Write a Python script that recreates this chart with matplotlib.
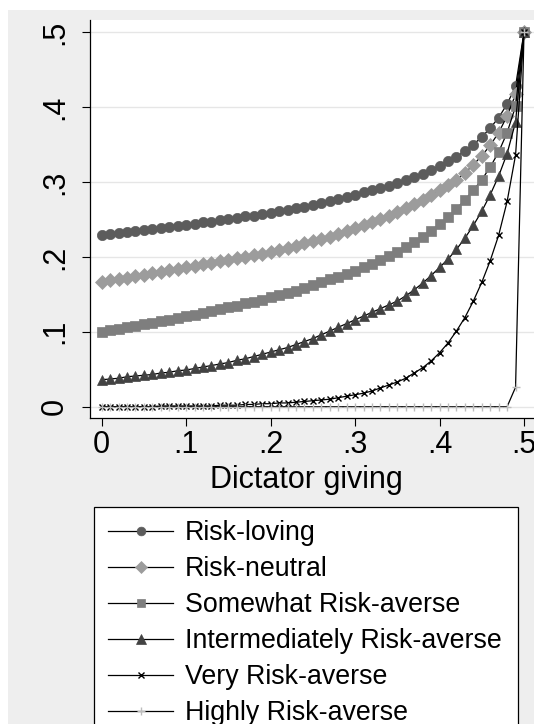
import matplotlib
matplotlib.use("Agg")
import matplotlib.pyplot as plt
from matplotlib.patches import Rectangle

plt.rcParams['font.family'] = ['Liberation Sans', 'DejaVu Sans']

giving = [0.00, 0.01, 0.02, 0.03, 0.04, 0.05, 0.06, 0.07, 0.08, 0.09,
          0.10, 0.11, 0.12, 0.13, 0.14, 0.15, 0.16, 0.17, 0.18, 0.19,
          0.20, 0.21, 0.22, 0.23, 0.24, 0.25, 0.26, 0.27, 0.28, 0.29,
          0.30, 0.31, 0.32, 0.33, 0.34, 0.35, 0.36, 0.37, 0.38, 0.39,
          0.40, 0.41, 0.42, 0.43, 0.44, 0.45, 0.46, 0.47, 0.48, 0.49, 0.50]

risk_loving = [0.229, 0.230, 0.232, 0.233, 0.234, 0.236, 0.237, 0.239, 0.240, 0.241,
               0.243, 0.244, 0.246, 0.247, 0.249, 0.250, 0.252, 0.254, 0.255, 0.257,
               0.259, 0.261, 0.263, 0.265, 0.267, 0.269, 0.272, 0.274, 0.277, 0.280,
               0.283, 0.286, 0.289, 0.292, 0.295, 0.299, 0.303, 0.307, 0.311, 0.316,
               0.322, 0.328, 0.334, 0.341, 0.350, 0.360, 0.372, 0.386, 0.404, 0.428, 0.500]

risk_neutral = [0.167, 0.169, 0.171, 0.172, 0.174, 0.176, 0.178, 0.180, 0.182, 0.184,
                0.186, 0.188, 0.190, 0.192, 0.194, 0.196, 0.198, 0.200, 0.202, 0.204,
                0.206, 0.209, 0.212, 0.215, 0.218, 0.221, 0.224, 0.227, 0.231, 0.235,
                0.239, 0.243, 0.247, 0.251, 0.255, 0.260, 0.265, 0.270, 0.276, 0.282,
                0.289, 0.296, 0.303, 0.312, 0.323, 0.335, 0.349, 0.366, 0.388, 0.417, 0.500]

somewhat_averse = [0.100, 0.102, 0.104, 0.106, 0.108, 0.110, 0.112, 0.114, 0.116, 0.118,
                   0.121, 0.123, 0.125, 0.128, 0.130, 0.133, 0.135, 0.138, 0.140, 0.143,
                   0.146, 0.149, 0.152, 0.155, 0.158, 0.162, 0.166, 0.170, 0.173, 0.177,
                   0.181, 0.186, 0.191, 0.196, 0.201, 0.207, 0.213, 0.220, 0.227, 0.235,
                   0.244, 0.253, 0.264, 0.276, 0.289, 0.303, 0.320, 0.340, 0.366, 0.401, 0.500]

intermediate_averse = [0.036, 0.037, 0.038, 0.040, 0.041, 0.042, 0.043, 0.045, 0.046, 0.048,
                       0.049, 0.051, 0.053, 0.055, 0.057, 0.059, 0.062, 0.064, 0.067, 0.070,
                       0.073, 0.076, 0.079, 0.083, 0.087, 0.091, 0.096, 0.101, 0.106, 0.111,
                       0.116, 0.121, 0.126, 0.131, 0.136, 0.141, 0.148, 0.156, 0.165, 0.175,
                       0.186, 0.197, 0.210, 0.225, 0.242, 0.261, 0.283, 0.308, 0.338, 0.380, 0.500]

very_averse = [0.000, 0.000, 0.000, 0.000, 0.000, 0.000, 0.000, 0.001, 0.001, 0.001,
               0.001, 0.001, 0.001, 0.001, 0.002, 0.002, 0.002, 0.003, 0.003, 0.004,
               0.004, 0.005, 0.005, 0.006, 0.007, 0.008, 0.009, 0.010, 0.012, 0.014,
               0.016, 0.018, 0.021, 0.025, 0.029, 0.033, 0.038, 0.045, 0.052, 0.061,
               0.072, 0.085, 0.101, 0.119, 0.141, 0.166, 0.195, 0.229, 0.274, 0.336, 0.500]

highly_averse = [0.000, 0.000, 0.000, 0.000, 0.000, 0.000, 0.000, 0.000, 0.000, 0.000,
                 0.000, 0.000, 0.000, 0.000, 0.000, 0.000, 0.000, 0.000, 0.000, 0.000,
                 0.000, 0.000, 0.000, 0.000, 0.000, 0.000, 0.000, 0.000, 0.000, 0.000,
                 0.000, 0.000, 0.000, 0.000, 0.000, 0.000, 0.000, 0.000, 0.000, 0.000,
                 0.000, 0.000, 0.000, 0.000, 0.000, 0.000, 0.000, 0.000, 0.000, 0.026, 0.500]

labels = ["Risk-loving", "Risk-neutral", "Somewhat Risk-averse",
          "Intermediately Risk-averse", "Very Risk-averse", "Highly Risk-averse"]
x_ticks = [0, 0.1, 0.2, 0.3, 0.4, 0.5]
x_ticklabels = ["0", ".1", ".2", ".3", ".4", ".5"]
y_ticks = [0, 0.1, 0.2, 0.3, 0.4, 0.5]
y_ticklabels = ["0", ".1", ".2", ".3", ".4", ".5"]

series = [risk_loving, risk_neutral, somewhat_averse, intermediate_averse, very_averse, highly_averse]
styles = [
    dict(marker='o', ms=7.4, mfc='#5c5c5c', mec='#5c5c5c', mew=0.5),
    dict(marker='D', ms=7.0, mfc='#9c9c9c', mec='#9c9c9c', mew=0.5),
    dict(marker='s', ms=6.6, mfc='#7e7e7e', mec='#7e7e7e', mew=0.5),
    dict(marker='^', ms=7.8, mfc='#424242', mec='#424242', mew=0.5),
    dict(marker='x', ms=4.6, mfc='black', mec='black', mew=1.0),
    dict(marker='+', ms=6.2, mfc='#bdbdbd', mec='#bdbdbd', mew=1.0),
]

W, H = 534, 724
fig = plt.figure(figsize=(W / 100, H / 100), dpi=100, facecolor='white')
fig.patches.append(Rectangle((8 / W, 0), 1 - 8 / W, 1 - 10 / H, transform=fig.transFigure,
                             facecolor='#eeeeee', edgecolor='none', zorder=-10))

ax = fig.add_axes([89.5 / W, 1 - 418 / H, 1 - 89.5 / W, (418 - 20) / H])
ax.set_facecolor('white')

handles = []
for ys, st, lab in zip(series, styles, labels):
    ln, = ax.plot(giving, ys, color='black', lw=0.9, label=lab, **st)
    handles.append(ln)

ax.set_xlim(-0.01444, 0.51183)
ax.set_ylim(-0.01509, 0.51629)
ax.set_xticks(x_ticks)
ax.set_xticklabels(x_ticklabels)
ax.set_yticks(y_ticks)
ax.set_yticklabels(y_ticklabels, rotation=90, va='center')
ax.tick_params(axis='both', direction='out', length=7.7 * 0.72, width=0.8, labelsize=22, colors='black')
ax.tick_params(axis='y', pad=8.5)
ax.tick_params(axis='x', pad=3)
ax.grid(axis='y', color='#e6e6e6', lw=1.0)
ax.set_axisbelow(True)
for s in ['top', 'right']:
    ax.spines[s].set_visible(False)
for s in ['left', 'bottom']:
    ax.spines[s].set_linewidth(0.9)
    ax.spines[s].set_color('black')

fig.text(306.7 / W, 1 - 488.3 / H, 'Dictator giving', ha='center', va='baseline', fontsize=22)

leg = fig.legend(handles, labels, loc='upper left',
                 bbox_to_anchor=(94.3 / W, 0, (518.3 - 94.3) / W, 1 - 506.7 / H),
                 mode='expand', borderaxespad=0, fontsize=19.3, numpoints=1, markerscale=0.85,
                 handlelength=2.45, handletextpad=0.42, borderpad=0.5,
                 labelspacing=0.376,
                 frameon=True, fancybox=False, shadow=False, framealpha=1,
                 facecolor='white', edgecolor='black')
leg.get_frame().set_linewidth(0.9)

fig.savefig('out.png', dpi=100, facecolor='white')
